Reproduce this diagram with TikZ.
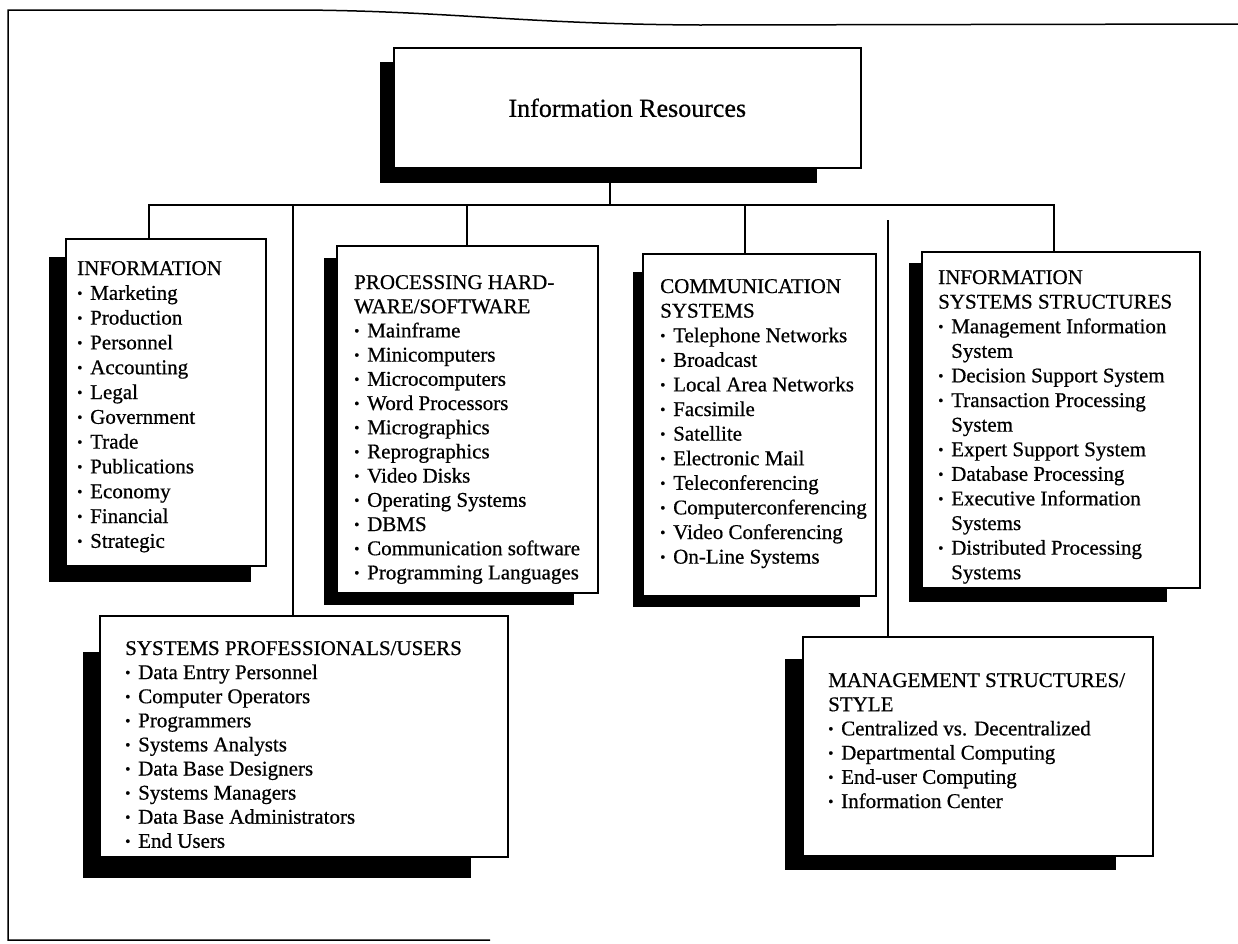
\documentclass[tikz,border=0pt]{standalone}
\usepackage{fontspec}
\setmainfont{Liberation Serif}[BoldFont=Liberation Serif, BoldFeatures={FakeBold=0.6}]
\usetikzlibrary{calc}
\pgfdeclarelayer{bg}
\pgfsetlayers{bg,main}
\newcommand\itm{\par\makebox[13pt][l]{\raisebox{1.6pt}{\fontsize{15}{15}\selectfont •}}}
\newcommand\cont{\par\hspace*{13pt}}
\newcommand\blocktext[2][24.6]{\begin{minipage}[t]{420pt}\raggedright\bfseries\fontsize{21}{#1}\selectfont #2\end{minipage}}
\newcommand\boxshadow[5]{\fill ([xshift=-#2pt,yshift=-#3pt]#1.north west) rectangle ([xshift=-#4pt,yshift=-#5pt]#1.south east);}
\begin{document}
\begin{tikzpicture}[x=1pt,y=-1pt,
  boxst/.style={draw, line width=1.6pt, fill=white, inner sep=0pt, anchor=north west},
  txtst/.style={anchor=base west, inner sep=0pt},
  link/.style={line width=1.3pt},
  framest/.style={line width=1.5pt}]
\useasboundingbox (0,0) rectangle (1238,943);

% outer frame
\draw[framest] (490,940) -- (8,940) -- (8,10) -- (300,10) .. controls (450,11) and (520,24) .. (700,25) -- (1238,24);

% boxes
\node[boxst, minimum width=467pt, minimum height=120pt, font=\bfseries\fontsize{26}{30}\selectfont] (top) at (393,47) {Information Resources};
\node[boxst, minimum width=200pt, minimum height=327pt] (info) at (65,238) {};
\node[boxst, minimum width=261pt, minimum height=347pt] (proc) at (336,245) {};
\node[boxst, minimum width=233pt, minimum height=342pt] (comm) at (642,253) {};
\node[boxst, minimum width=278pt, minimum height=336pt] (infosys) at (921,251) {};
\node[boxst, minimum width=408pt, minimum height=241pt] (sysprof) at (99,615) {};
\node[boxst, minimum width=350pt, minimum height=219pt] (mgmt) at (802,636) {};

% shadows
\begin{pgfonlayer}{bg}
\fill[white] (0,0) rectangle (1238,943);
\boxshadow{top}{13}{15}{45}{14}
\boxshadow{info}{16}{19}{16}{15}
\boxshadow{proc}{12}{13}{25}{11}
\boxshadow{comm}{9}{19}{17}{10}
\boxshadow{infosys}{12}{12}{34}{13}
\boxshadow{sysprof}{16}{37}{38}{20}
\boxshadow{mgmt}{17}{23}{38}{13}
\end{pgfonlayer}

% texts
\node[txtst] (infoT) at (77,275) {\blocktext[24.8]{INFORMATION
 \itm Marketing \itm Production \itm Personnel \itm Accounting \itm Legal
 \itm Government \itm Trade \itm Publications \itm Economy \itm Financial \itm Strategic}};
\node[txtst] (procT) at (354,289) {\blocktext[24.2]{PROCESSING HARD-\par WARE/SOFTWARE
 \itm Mainframe \itm Minicomputers \itm Microcomputers \itm Word Processors
 \itm Micrographics \itm Reprographics \itm Video Disks \itm Operating Systems
 \itm DBMS \itm Communication software \itm Programming Languages}};
\node[txtst] (commT) at (660,293) {\blocktext{COMMUNICATION\par SYSTEMS
 \itm Telephone Networks \itm Broadcast \itm Local Area Networks \itm Facsimile
 \itm Satellite \itm Electronic Mail \itm Teleconferencing \itm Computerconferencing
 \itm Video Conferencing \itm On-Line Systems}};
\node[txtst] (infosysT) at (938,284) {\blocktext{INFORMATION\par SYSTEMS STRUCTURES
 \itm Management Information \cont System \itm Decision Support System
 \itm Transaction Processing \cont System \itm Expert Support System
 \itm Database Processing \itm Executive Information \cont Systems
 \itm Distributed Processing \cont Systems}};
\node[txtst] (sysprofT) at (125,655) {\blocktext[24.1]{SYSTEMS PROFESSIONALS/USERS
 \itm Data Entry Personnel \itm Computer Operators \itm Programmers
 \itm Systems Analysts \itm Data Base Designers \itm Systems Managers
 \itm Data Base Administrators \itm End Users}};
\node[txtst] (mgmtT) at (828,687) {\blocktext[24.2]{MANAGEMENT STRUCTURES/\par STYLE
 \itm Centralized vs. Decentralized \itm Departmental Computing
 \itm End-user Computing \itm Information Center}};

% connectors
\coordinate (busL) at (149,205);
\coordinate (busR) at (1054,205);
\coordinate (tdrop) at (610,205);
\coordinate (b2) at (293,205);
\coordinate (b3) at (467,205);
\coordinate (b4) at (745,205);
\coordinate (b6) at (888,220);
\draw[link] (busL |- info.north) -- (busL) -- (busR) -- (busR |- infosys.north);
\draw[link] (tdrop) -- (tdrop |- top.south);
\draw[link] (b2) -- (b2 |- sysprof.north);
\draw[link] (b3) -- (b3 |- proc.north);
\draw[link] (b4) -- (b4 |- comm.north);
\draw[link] (b6) -- (b6 |- mgmt.north);
\end{tikzpicture}
\end{document}
